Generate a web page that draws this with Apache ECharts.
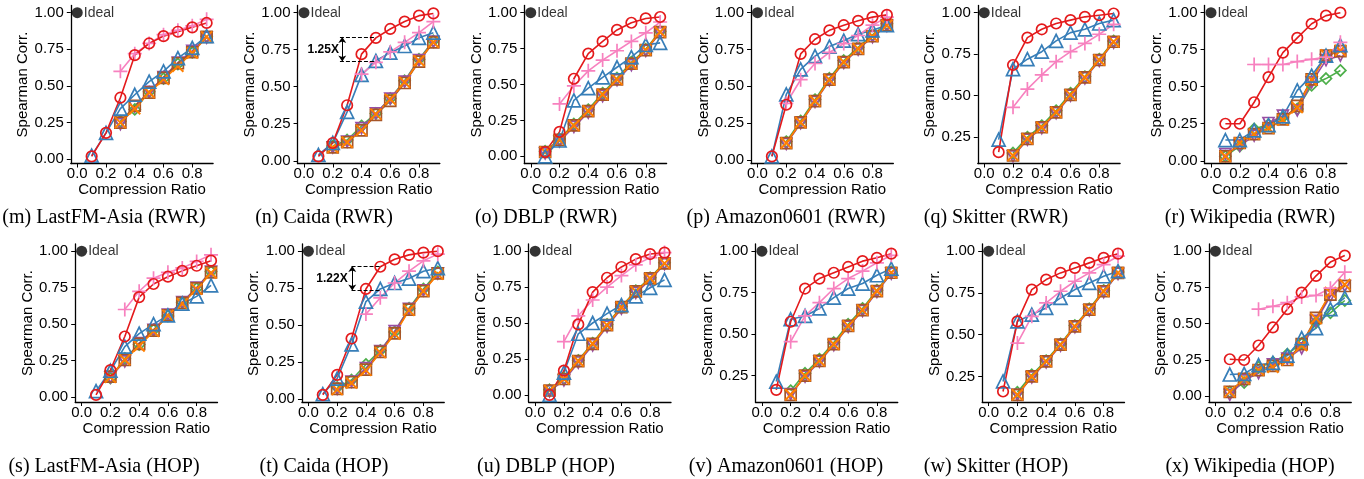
<!DOCTYPE html>
<html><head><meta charset="utf-8">
<script src="https://cdn.jsdelivr.net/npm/echarts@6/dist/echarts.min.js"></script>
<style>html,body{margin:0;padding:0;background:#fff}#c{width:1364px;height:479px}</style>
</head><body><div id="c"></div>
<script>
// ---------------- DATA ----------------
const ratios = [0.1, 0.2, 0.3, 0.4, 0.5, 0.6, 0.7, 0.8, 0.9];
const xTickValues = [0, 0.2, 0.4, 0.6, 0.8];
const yTickValues = [0, 0.25, 0.5, 0.75, 1.0];
const idealPoint = [0, 1];
// series order in every panel: red(circle), pink(plus), blue(triangle), green(diamond), purple(down-tri), brown(square), orange(x)
const lastfmRwr = [
  [0.02, 0.18, 0.42, 0.71, 0.79, 0.84, 0.87, 0.90, 0.93],
  [null, null, 0.60, 0.72, 0.79, 0.85, 0.88, 0.91, 0.955],
  [0.025, 0.18, 0.345, 0.44, 0.53, 0.60, 0.69, 0.76, 0.84],
  [null, null, 0.26, 0.34, 0.46, 0.55, 0.65, 0.73, 0.84],
  [null, null, 0.24, 0.36, 0.46, 0.56, 0.66, 0.74, 0.83],
  [null, null, 0.25, 0.365, 0.455, 0.555, 0.655, 0.73, 0.835],
  [null, null, 0.25, 0.345, 0.455, 0.545, 0.635, 0.725, 0.835]
];
const caidaRwr = [
  [0.03, 0.12, 0.375, 0.72, 0.83, 0.89, 0.94, 0.98, 0.995],
  [null, null, null, 0.585, 0.665, 0.735, 0.80, 0.865, 0.94],
  [0.04, 0.12, 0.33, 0.58, 0.675, 0.73, 0.775, 0.83, 0.865],
  [null, 0.10, 0.14, 0.235, 0.32, 0.42, 0.54, 0.685, 0.81],
  [null, 0.09, 0.13, 0.22, 0.32, 0.42, 0.535, 0.68, 0.805],
  [null, 0.09, 0.125, 0.205, 0.31, 0.405, 0.525, 0.67, 0.80],
  [null, 0.09, 0.125, 0.205, 0.315, 0.415, 0.53, 0.675, 0.80]
];
const dblpRwr = [
  [0.03, 0.17, 0.54, 0.715, 0.80, 0.88, 0.93, 0.96, 0.97],
  [null, 0.365, 0.49, 0.595, 0.67, 0.735, 0.80, 0.86, 0.935],
  [0.0, 0.11, 0.39, 0.475, 0.55, 0.62, 0.69, 0.775, 0.79],
  [0.035, 0.12, 0.225, 0.325, 0.44, 0.545, 0.655, 0.745, 0.87],
  [0.02, 0.105, 0.205, 0.305, 0.42, 0.53, 0.635, 0.735, 0.86],
  [0.03, 0.115, 0.215, 0.315, 0.43, 0.535, 0.645, 0.74, 0.865],
  [0.03, 0.115, 0.215, 0.315, 0.43, 0.535, 0.645, 0.74, 0.865]
];
const amazonRwr = [
  [0.025, 0.375, 0.72, 0.82, 0.88, 0.915, 0.945, 0.97, 0.985],
  [null, 0.385, 0.545, 0.655, 0.73, 0.79, 0.845, 0.915, 0.97],
  [0.025, 0.445, 0.615, 0.705, 0.77, 0.81, 0.855, 0.88, 0.915],
  [null, 0.125, 0.265, 0.41, 0.555, 0.675, 0.765, 0.85, 0.925],
  [null, 0.11, 0.25, 0.395, 0.54, 0.66, 0.75, 0.835, 0.91],
  [null, 0.115, 0.255, 0.40, 0.545, 0.665, 0.755, 0.84, 0.915],
  [null, 0.115, 0.255, 0.40, 0.545, 0.665, 0.755, 0.84, 0.915]
];
const skitterRwr = [
  [0.16, 0.685, 0.85, 0.90, 0.935, 0.955, 0.975, 0.985, 0.995],
  [null, 0.43, 0.54, 0.625, 0.705, 0.765, 0.815, 0.87, 0.93],
  [0.235, 0.66, 0.72, 0.765, 0.83, 0.88, 0.90, 0.935, 0.955],
  [null, 0.155, 0.25, 0.32, 0.41, 0.515, 0.615, 0.72, 0.83],
  [null, 0.135, 0.235, 0.305, 0.395, 0.50, 0.605, 0.71, 0.82],
  [null, 0.14, 0.24, 0.31, 0.40, 0.505, 0.61, 0.715, 0.825],
  [null, 0.14, 0.24, 0.31, 0.40, 0.505, 0.61, 0.715, 0.825]
];
const wikiRwr = [
  [0.25, 0.25, 0.395, 0.565, 0.73, 0.83, 0.925, 0.98, 1.0],
  [null, null, 0.65, 0.65, 0.65, 0.67, 0.685, 0.70, 0.80],
  [0.14, 0.14, 0.205, 0.24, 0.30, 0.475, 0.575, 0.71, 0.78],
  [0.03, 0.10, 0.215, 0.245, 0.295, 0.35, 0.51, 0.555, 0.61],
  [0.045, 0.10, 0.17, 0.255, 0.305, 0.34, 0.53, 0.68, 0.71],
  [0.03, 0.12, 0.18, 0.22, 0.28, 0.37, 0.55, 0.71, 0.74],
  [0.03, 0.12, 0.18, 0.22, 0.275, 0.36, 0.545, 0.715, 0.745]
];
const lastfmHop = [
  [0.015, 0.185, 0.415, 0.685, 0.775, 0.825, 0.865, 0.90, 0.935],
  [null, null, 0.60, 0.725, 0.815, 0.855, 0.885, 0.93, 0.975],
  [0.04, 0.18, 0.345, 0.435, 0.50, 0.56, 0.64, 0.69, 0.765],
  [null, 0.13, 0.265, 0.36, 0.46, 0.555, 0.65, 0.745, 0.86],
  [null, 0.135, 0.245, 0.37, 0.46, 0.565, 0.65, 0.75, 0.86],
  [null, 0.14, 0.255, 0.365, 0.455, 0.56, 0.645, 0.745, 0.855],
  [null, 0.135, 0.255, 0.35, 0.45, 0.56, 0.64, 0.74, 0.85]
];
const caidaHop = [
  [0.03, 0.165, 0.41, 0.745, 0.895, 0.945, 0.975, 0.99, 1.0],
  [null, null, null, 0.575, 0.685, 0.785, 0.865, 0.935, 0.98],
  [0.035, 0.14, 0.37, 0.66, 0.745, 0.785, 0.815, 0.865, 0.885],
  [null, 0.08, 0.13, 0.235, 0.33, 0.455, 0.615, 0.745, 0.86],
  [null, 0.07, 0.12, 0.21, 0.325, 0.46, 0.61, 0.735, 0.85],
  [null, 0.07, 0.115, 0.20, 0.32, 0.445, 0.605, 0.73, 0.85],
  [null, 0.065, 0.11, 0.195, 0.315, 0.44, 0.60, 0.73, 0.845]
];
const dblpHop = [
  [0.0, 0.168, 0.49, 0.715, 0.815, 0.89, 0.945, 0.98, 0.99],
  [null, 0.37, 0.55, 0.66, 0.75, 0.83, 0.905, 0.955, 0.99],
  [0.0, 0.155, 0.425, 0.50, 0.565, 0.625, 0.685, 0.745, 0.80],
  [0.035, 0.115, 0.24, 0.36, 0.49, 0.615, 0.725, 0.815, 0.92],
  [0.025, 0.10, 0.225, 0.345, 0.475, 0.60, 0.71, 0.80, 0.91],
  [0.03, 0.11, 0.235, 0.355, 0.485, 0.61, 0.72, 0.81, 0.915],
  [0.03, 0.11, 0.235, 0.355, 0.485, 0.61, 0.72, 0.81, 0.915]
];
const amazonHop = [
  [0.165, 0.575, 0.775, 0.835, 0.87, 0.905, 0.94, 0.96, 0.985],
  [null, 0.455, 0.61, 0.69, 0.775, 0.835, 0.88, 0.93, 0.975],
  [0.215, 0.59, 0.61, 0.655, 0.72, 0.775, 0.805, 0.855, 0.895],
  [null, 0.16, 0.265, 0.35, 0.45, 0.56, 0.655, 0.765, 0.875],
  [null, 0.14, 0.245, 0.335, 0.435, 0.545, 0.64, 0.755, 0.865],
  [null, 0.135, 0.25, 0.34, 0.44, 0.55, 0.645, 0.76, 0.87],
  [null, 0.135, 0.25, 0.34, 0.44, 0.55, 0.645, 0.76, 0.87]
];
const skitterHop = [
  [0.16, 0.58, 0.77, 0.83, 0.87, 0.90, 0.93, 0.96, 0.985],
  [null, 0.45, 0.61, 0.69, 0.76, 0.82, 0.87, 0.92, 0.97],
  [0.22, 0.58, 0.62, 0.66, 0.72, 0.77, 0.81, 0.85, 0.88],
  [null, 0.155, 0.26, 0.345, 0.445, 0.555, 0.655, 0.765, 0.875],
  [null, 0.14, 0.245, 0.335, 0.435, 0.545, 0.645, 0.755, 0.865],
  [null, 0.14, 0.25, 0.34, 0.44, 0.55, 0.65, 0.76, 0.87],
  [null, 0.14, 0.25, 0.34, 0.44, 0.55, 0.65, 0.76, 0.87]
];
const wikiHop = [
  [0.255, 0.25, 0.35, 0.475, 0.60, 0.715, 0.83, 0.925, 0.97],
  [null, null, 0.60, 0.62, 0.645, 0.685, 0.695, 0.745, 0.855],
  [0.15, 0.155, 0.215, 0.23, 0.28, 0.40, 0.47, 0.60, 0.68],
  [0.03, 0.095, 0.20, 0.235, 0.29, 0.365, 0.51, 0.575, 0.66],
  [0.01, 0.11, 0.16, 0.22, 0.26, 0.33, 0.52, 0.69, 0.76],
  [0.03, 0.12, 0.18, 0.21, 0.25, 0.36, 0.54, 0.70, 0.76],
  [0.03, 0.12, 0.18, 0.20, 0.25, 0.35, 0.535, 0.715, 0.77]
];
const captions = [
  '(m) LastFM-Asia (RWR)', '(n) Caida (RWR)', '(o) DBLP (RWR)', '(p) Amazon0601 (RWR)', '(q) Skitter (RWR)', '(r) Wikipedia (RWR)',
  '(s) LastFM-Asia (HOP)', '(t) Caida (HOP)', '(u) DBLP (HOP)', '(v) Amazon0601 (HOP)', '(w) Skitter (HOP)', '(x) Wikipedia (HOP)'
];
const panelData = [lastfmRwr, caidaRwr, dblpRwr, amazonRwr, skitterRwr, wikiRwr,
                   lastfmHop, caidaHop, dblpHop, amazonHop, skitterHop, wikiHop];
// gap annotations: [panelIndex, upper, lower, label]
const gapNotes = [[1, 0.836, 0.67, '1.25X'], [7, 0.90, 0.735, '1.22X']];

// ---------------- STYLE ----------------
const ARIAL = 'Liberation Sans, Arial, sans-serif';
const seriesStyles = [
  {color: '#e41a1c', symbol: 'circle', size: 10.5},
  {color: '#f781bf', symbol: 'path://M5,0L5,10M0,5L10,5', size: 14},
  {color: '#377eb8', symbol: 'triangle', size: 13},
  {color: '#4daf4a', symbol: 'diamond', size: 11},
  {color: '#984ea3', symbol: 'path://M0,0L10,0L5,8.66Z', size: 11},
  {color: '#a65628', symbol: 'rect', size: 11},
  {color: '#ff7f00', symbol: 'path://M0,0L10,10M0,10L10,0', size: 11}
];
const drawOrder = [3, 4, 5, 6, 2, 1, 0];

const grids = [], xAxes = [], yAxes = [], series = [], graphics = [];
const colW = 226.75;
const captionCenters = [104, 324, 546, 786, 996, 1250];

panelData.forEach((vals, p) => {
  const row = Math.floor(p / 6), col = p % 6;
  const left = (row === 0 ? 70.8 : 75.2) + col * colW;
  const top = row === 0 ? 5.5 : 244;
  grids.push({left: left, top: top, width: 142.3, height: 158, containLabel: false});
  let dmin = 1;
  vals.forEach(a => a.forEach(v => { if (v !== null && v < dmin) dmin = v; }));
  const span = 1 - dmin;
  const ymin = dmin - 0.05 * span, ymax = 1 + 0.05 * span;
  const yTicks = yTickValues.filter(v => v >= ymin);
  xAxes.push({
    type: 'value', gridIndex: p, min: -0.045, max: 0.945,
    name: 'Compression Ratio', nameLocation: 'middle', nameGap: 19,
    nameTextStyle: {fontFamily: ARIAL, fontSize: 15, color: '#000'},
    axisLine: {show: true, onZero: false, lineStyle: {color: '#000', width: 1.3}},
    axisTick: {show: true, length: 4, customValues: xTickValues, lineStyle: {color: '#000', width: 1}},
    axisLabel: {customValues: xTickValues, margin: 3, fontFamily: ARIAL, fontSize: 15, color: '#000',
      formatter: v => v.toFixed(1)},
    splitLine: {show: false}
  });
  yAxes.push({
    type: 'value', gridIndex: p, min: ymin, max: ymax,
    name: 'Spearman Corr.', nameLocation: 'middle', nameGap: 38,
    nameTextStyle: {fontFamily: ARIAL, fontSize: 15, color: '#000'},
    axisLine: {show: true, onZero: false, lineStyle: {color: '#000', width: 1.3}},
    axisTick: {show: true, length: 4, customValues: yTicks, lineStyle: {color: '#000', width: 1}},
    axisLabel: {customValues: yTicks, margin: 7, fontFamily: ARIAL, fontSize: 15, color: '#000',
      formatter: v => v.toFixed(2)},
    splitLine: {show: false}
  });
  drawOrder.forEach(si => {
    const st = seriesStyles[si];
    const s = {
      type: 'line', xAxisIndex: p, yAxisIndex: p,
      data: ratios.map((x, i) => [x, vals[si][i]]),
      symbol: st.symbol, symbolSize: st.size, showAllSymbol: true,
      lineStyle: {color: st.color, width: 1.6},
      itemStyle: {color: 'rgba(0,0,0,0)', borderColor: st.color, borderWidth: si === 6 ? 2 : 1.7},
      emphasis: {disabled: true}, silent: true, animation: false, clip: false, z: 2
    };
    if (si === 0) {
      const note = gapNotes.find(g => g[0] === p);
      if (note) {
        const up = note[1], lo = note[2];
        const x0 = p === 1 ? 0.25 : 0.30, x1 = p === 1 ? 0.50 : 0.51, xa = p === 1 ? 0.266 : 0.305;
        const lx = p === 1 ? 0.134 : 0.164;
        s.markLine = {
          silent: true, animation: false, symbol: 'none',
          label: {show: false},
          lineStyle: {color: '#000', type: [4, 2], width: 1},
          data: [
            [{coord: [x0, up]}, {coord: [x1, up]}],
            [{coord: [x0, lo]}, {coord: [x1, lo]}],
            [{coord: [xa, up], symbol: 'arrow', symbolSize: 6}, {coord: [xa, lo], symbol: 'arrow', symbolSize: 6, lineStyle: {type: 'solid'}}]
          ]
        };
        s.markPoint = {
          silent: true, animation: false,
          data: [{coord: [lx, (up + lo) / 2], symbol: 'circle', symbolSize: 0,
            label: {show: true, position: 'inside', formatter: note[3], fontFamily: ARIAL, fontWeight: 'bold', fontSize: 12, color: '#000'}}]
        };
      }
    }
    series.push(s);
  });
  series.push({
    type: 'scatter', xAxisIndex: p, yAxisIndex: p, data: [idealPoint],
    symbol: 'circle', symbolSize: 11, itemStyle: {color: '#000'},
    label: {show: true, position: 'right', distance: 1, formatter: 'Ideal', fontFamily: ARIAL, fontSize: 14, color: '#000'},
    silent: true, animation: false, clip: false, z: 3
  });
  graphics.push({
    type: 'text', x: captionCenters[col], y: row === 0 ? 218 : 467,
    style: {text: captions[p], textAlign: 'center', textVerticalAlign: 'middle',
      font: '20px "Liberation Serif", "Times New Roman", serif', fill: '#000'}
  });
});

const chart = echarts.init(document.getElementById('c'), null, {renderer: 'canvas'});
chart.setOption({
  backgroundColor: '#fff', animation: false,
  grid: grids, xAxis: xAxes, yAxis: yAxes, series: series, graphic: graphics
});
</script></body></html>
